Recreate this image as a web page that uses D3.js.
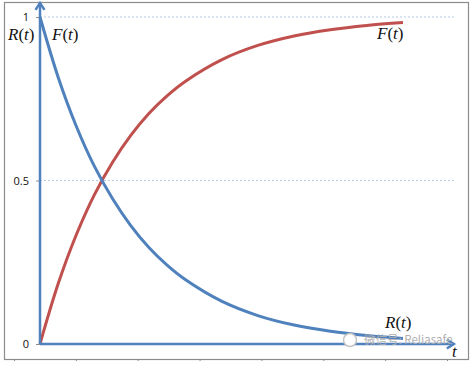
<!doctype html>
<html>
<head>
<meta charset="utf8">
<style>
  body { margin: 0; background: #fff; }
  .curve { fill: none; stroke-width: 3; }
  .axisline { stroke: #4f81bd; stroke-width: 2.5; fill: none; }
  .grid { stroke: #b4c8e6; stroke-width: 1; stroke-dasharray: 2,2; }
  .lbl { font-family: "Liberation Serif", "DejaVu Serif", serif; font-size: 17px; fill: #111; }
  .tick text { font-family: "Open Sans", "Liberation Sans", sans-serif; font-size: 11px; fill: #111; }
  .tick line { stroke: #8c8c8c; }
</style>
<script src="https://d3js.org/d3.v7.min.js"></script>
</head>
<body>
<svg width="475" height="367"></svg>
<script>
// values
var tValues = [0, 0.25, 0.5, 0.75, 1, 1.25, 1.5, 1.75, 2, 2.5, 3, 3.5, 4, 4.5, 5];
var rValues = [1, 0.816, 0.666, 0.543, 0.444, 0.362, 0.295, 0.241, 0.197, 0.131, 0.087, 0.058, 0.039, 0.026, 0.017];
var fValues = [0, 0.184, 0.334, 0.457, 0.556, 0.638, 0.705, 0.759, 0.803, 0.869, 0.913, 0.942, 0.961, 0.974, 0.983];
var yTicks = [0, 0.5, 1];
var yTickLabels = ["0", "0.5", "1"];
var gridValues = [0.5, 1];
var tAxisMax = 5.7, yAxisMax = 1.043;
var bottomTicks = [0, 1, 2, 3, 4, 5, 6, 7];

var svg = d3.select("svg");

var x = d3.scaleLinear().domain([0, 5]).range([40, 403]),
    y = d3.scaleLinear().domain([0, 1]).range([344, 17]);

// chart border
svg.append("rect")
   .attr("x", 4.5).attr("y", 2.5)
   .attr("width", 464).attr("height", 357)
   .attr("fill", "none")
   .attr("stroke", "#8c8c8c")
   .attr("stroke-width", 1.2);

// little tick marks below the border
var xb = d3.scalePoint().domain(bottomTicks).range([14, 447]);
svg.append("g")
   .attr("transform", "translate(0,359)")
   .call(d3.axisBottom(xb).tickSize(2).tickFormat(""))
   .call(function(g) { g.select(".domain").remove(); });

// grid lines
svg.selectAll(".grid")
   .data(gridValues)
   .enter().append("line")
   .attr("class", "grid")
   .attr("x1", x(0)).attr("x2", x(tAxisMax))
   .attr("y1", function(d) { return y(d); })
   .attr("y2", function(d) { return y(d); });

// y ticks + labels
svg.append("g")
   .attr("transform", "translate(" + x(0) + ",0)")
   .call(d3.axisLeft(y).tickValues(yTicks).tickSize(4).tickPadding(7)
         .tickFormat(function(d, i) { return yTickLabels[i]; }))
   .call(function(g) { g.select(".domain").remove(); });

// curves
var line = d3.line().curve(d3.curveCatmullRom);

svg.append("path")
   .attr("class", "curve")
   .attr("stroke", "#c0504d")
   .attr("d", line(tValues.map(function(t, i) { return [x(t), y(fValues[i])]; })));

svg.append("path")
   .attr("class", "curve")
   .attr("stroke", "#4f81bd")
   .attr("d", line(tValues.map(function(t, i) { return [x(t), y(rValues[i])]; })));

// axes with open arrow heads
var y0 = y(0), x0 = x(0), xEnd = x(tAxisMax), yTop = y(yAxisMax);
svg.append("line").attr("class", "axisline")
   .attr("x1", x0).attr("y1", y0).attr("x2", xEnd).attr("y2", y0);
svg.append("line").attr("class", "axisline")
   .attr("x1", x0).attr("y1", y0).attr("x2", x0).attr("y2", yTop);
svg.append("path").attr("class", "axisline")
   .attr("d", "M" + (xEnd - 7) + "," + (y0 - 4.5) + "L" + xEnd + "," + y0 + "L" + (xEnd - 7) + "," + (y0 + 4.5));
svg.append("path").attr("class", "axisline")
   .attr("d", "M" + (x0 - 4.5) + "," + (yTop + 7) + "L" + x0 + "," + yTop + "L" + (x0 + 4.5) + "," + (yTop + 7));

// italic math labels
function mathLabel(name, px, py) {
    var t = svg.append("text").attr("class", "lbl").attr("x", px).attr("y", py);
    t.append("tspan").attr("font-style", "italic").text(name);
    t.append("tspan").text("(");
    t.append("tspan").attr("font-style", "italic").text("t");
    t.append("tspan").text(")");
}
mathLabel("R", 8, 40);
mathLabel("F", 52, 40);
mathLabel("F", 377, 39);
mathLabel("R", 385, 328);

svg.append("text").attr("class", "lbl")
   .attr("x", 452).attr("y", 357)
   .attr("font-style", "italic")
   .text("t");

// watermark
svg.append("circle")
   .attr("cx", 350).attr("cy", 340).attr("r", 6.5)
   .attr("fill", "#fff").attr("stroke", "#c4c4c4").attr("stroke-width", 1.5);
svg.append("text")
   .attr("x", 364).attr("y", 344)
   .attr("font-family", "Noto Sans CJK SC, sans-serif")
   .attr("font-size", 11.5)
   .attr("fill", "#b0b0b0")
   .text("微信号: Reliasafe");
</script>
</body>
</html>
